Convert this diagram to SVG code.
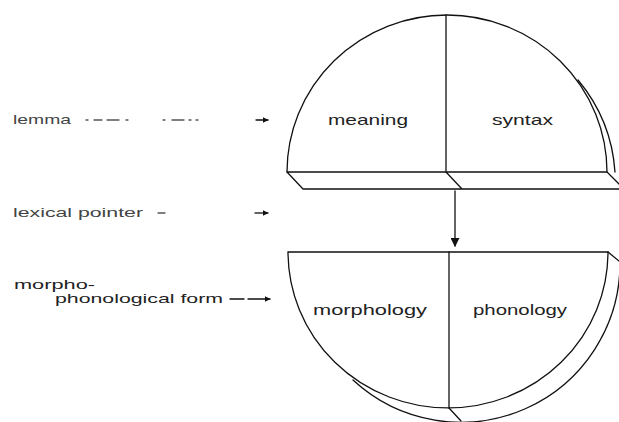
<svg xmlns="http://www.w3.org/2000/svg" width="619" height="422" viewBox="0 0 619 422">
<style>
.ln{fill:none;stroke:#111;stroke-width:1.3;stroke-linecap:round}
.t{font-family:"Liberation Sans",Arial,sans-serif;fill:#222}
.big{font-size:15px}
.sm{font-size:13px;fill:#444}
</style>
<defs>
<marker id="ah" viewBox="0 0 10 10" refX="9" refY="5" markerWidth="6" markerHeight="6" orient="auto" markerUnits="userSpaceOnUse">
<path d="M0,0 L10,5 L0,10 Z" fill="#111"/>
</marker>
<marker id="ahb" viewBox="0 0 10 10" refX="9" refY="5" markerWidth="9" markerHeight="9" orient="auto" markerUnits="userSpaceOnUse">
<path d="M0,0 L10,5 L0,10 Z" fill="#111"/>
</marker>
</defs>
<rect width="619" height="422" fill="#fff"/>

<g id="lemma-node">
<path class="ln" d="M287,172 A160 157 0 0 1 607,172"/>
<path class="ln" d="M446,15 L446,172"/>
<path class="ln" d="M578,80 A160 160 0 0 1 615,172"/>
<path class="ln" d="M287,172 L607,172 M303,189 L619,189 M287,172 L303,189 M446,172 L462,189 M607,172 L619,184"/>
<text class="t big" x="328" y="125" textLength="80" lengthAdjust="spacingAndGlyphs">meaning</text>
<text class="t big" x="492" y="125" textLength="61" lengthAdjust="spacingAndGlyphs">syntax</text>
</g>

<g id="form-node">
<path class="ln" d="M288,252 A160 156 0 0 0 608,252 Z"/>
<path class="ln" d="M449,252 L449,408"/>
<path class="ln" d="M608,252 L619,261"/>
<path class="ln" d="M620,262 A159 159 0 0 1 353,380"/>
<path class="ln" d="M449,408 L461,421"/>
<text class="t big" x="313" y="315" textLength="114" lengthAdjust="spacingAndGlyphs">morphology</text>
<text class="t big" x="473" y="315" textLength="94" lengthAdjust="spacingAndGlyphs">phonology</text>
</g>

<g id="labels">
<text class="t sm" x="13" y="124" textLength="58" lengthAdjust="spacingAndGlyphs">lemma</text>
<text class="t sm" x="13" y="217" textLength="130" lengthAdjust="spacingAndGlyphs">lexical pointer</text>
<text class="t sm" x="14" y="289" textLength="81" lengthAdjust="spacingAndGlyphs" style="fill:#222">morpho-</text>
<text class="t sm" x="55" y="303" textLength="168" lengthAdjust="spacingAndGlyphs" style="fill:#222">phonological form</text>
</g>

<g id="connectors">
<path class="ln" stroke-dasharray="2 6 8 5 12 7 2 35 2 7 12 5 2 5 2 50 6 4" d="M86,120 L246,120" style="stroke:#555"/>
<path class="ln" d="M256,120 L268,120" marker-end="url(#ah)"/>
<path class="ln" d="M158,213 L165,213" style="stroke:#555"/>
<path class="ln" d="M255,213 L268,213" marker-end="url(#ah)" style="stroke:#333"/>
<path class="ln" stroke-dasharray="14 4 40" d="M230,299 L270,299" marker-end="url(#ah)"/>
<path class="ln" d="M455,191 L455,246" marker-end="url(#ahb)"/>
</g>
</svg>
